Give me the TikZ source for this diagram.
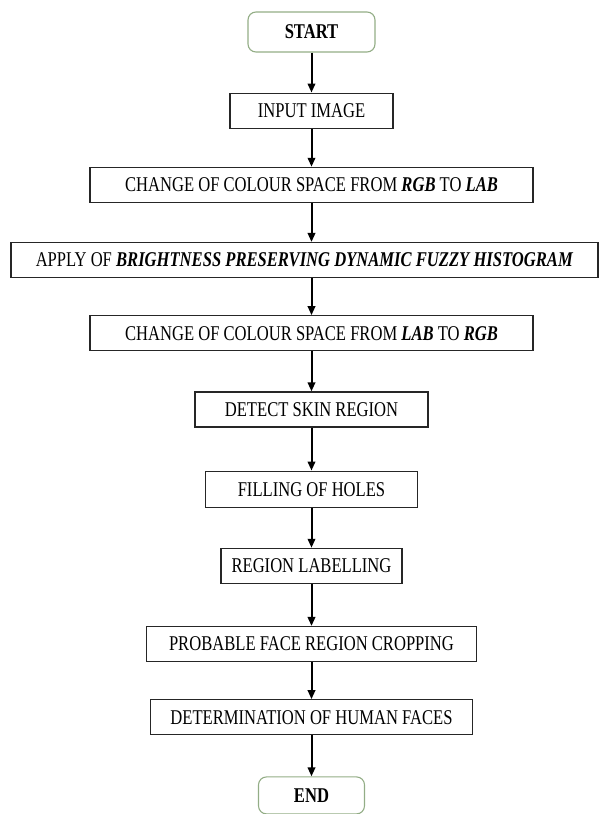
\documentclass[tikz,border=0pt]{standalone}
\usepackage{fontspec}
\setmainfont[FakeStretch=0.79]{Liberation Serif}
\usetikzlibrary{arrows.meta,positioning}
\definecolor{termline}{HTML}{93AD86}
\newcommand{\bi}[1]{\textbf{\textit{#1}}}
\tikzset{
  stepbox/.style = {draw=black!85, line width=1.2pt, minimum height=35pt,
                    inner sep=2pt, font=\fontsize{21}{24}\selectfont},
  term/.style    = {draw=termline, line width=1.1pt, rounded corners=8pt,
                    minimum height=40pt, font=\fontsize{21}{24}\selectfont\bfseries},
  ar/.style      = {-{Triangle[length=9pt,width=7.5pt]}, line width=2pt},
}
\begin{document}
\begin{tikzpicture}[x=1pt, y=1pt]
  \useasboundingbox (0,0) rectangle (600,-814);
  \node[term, minimum width=127pt] (start) at (311.5,-32) {START};
  \node[stepbox, minimum width=163pt, below=40pt of start] (input) {INPUT IMAGE};
  \node[stepbox, minimum width=443pt, below=38pt of input] (rgblab)
    {CHANGE OF COLOUR SPACE FROM \bi{RGB} TO \bi{LAB}};
  \node[stepbox, minimum width=587pt, below=39pt of rgblab, xshift=-7pt] (bpdfh)
    {APPLY OF \bi{BRIGHTNESS PRESERVING DYNAMIC FUZZY HISTOGRAM}};
  \node[stepbox, minimum width=443pt, below=37pt of bpdfh, xshift=7pt] (labrgb)
    {CHANGE OF COLOUR SPACE FROM \bi{LAB} TO \bi{RGB}};
  \node[stepbox, minimum width=233pt, below=40pt of labrgb] (skin) {DETECT SKIN REGION};
  \node[stepbox, minimum width=212pt, minimum height=36pt, below=43pt of skin] (holes) {FILLING OF HOLES};
  \node[stepbox, minimum width=181pt, below=40pt of holes] (label) {REGION LABELLING};
  \node[stepbox, minimum width=330pt, below=42pt of label] (crop) {PROBABLE FACE REGION CROPPING};
  \node[stepbox, minimum width=322pt, below=37pt of crop] (faces) {DETERMINATION OF HUMAN FACES};
  \node[term, minimum width=106pt, minimum height=37pt, below=41pt of faces] (end) {END};
  \foreach \a/\b in {start/input, input/rgblab, rgblab/bpdfh, bpdfh/labrgb, labrgb/skin,
                     skin/holes, holes/label, label/crop, crop/faces, faces/end}
    \draw[ar] (\a.south -| start) -- (\b.north -| start);
\end{tikzpicture}
\end{document}
